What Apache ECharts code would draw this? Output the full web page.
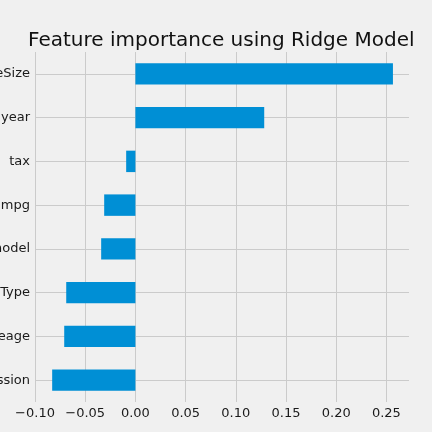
<!DOCTYPE html>
<html>
<head>
<meta charset="utf-8">
<script src="https://cdn.jsdelivr.net/npm/echarts@6/dist/echarts.min.js"></script>
<style>html,body{margin:0;padding:0;background:#f0f0f0;}#c{width:432px;height:432px;}</style>
</head>
<body>
<div id="c"></div>
<script>
const features = ['engineSize', 'year', 'tax', 'mpg', 'model', 'fuelType', 'mileage', 'transmission'];
const importance = [0.2565, 0.1283, -0.0092, -0.0311, -0.0341, -0.0689, -0.0709, -0.0829];
const titleText = 'Feature importance using Ridge Model';

const chart = echarts.init(document.getElementById('c'), null, {renderer: 'canvas'});
const font = 'DejaVu Sans';
chart.setOption({
  backgroundColor: '#f0f0f0',
  animation: false,
  title: {
    text: titleText,
    left: 23, top: 26,
    textStyle: {fontFamily: font, fontSize: 20, fontWeight: 'normal', color: '#111'}
  },
  grid: {left: 35, right: 23, top: 52, bottom: 30, containLabel: false, outerBoundsMode: 'none'},
  xAxis: {
    type: 'value', min: -0.1, max: 0.2725, interval: 0.05,
    axisLine: {show: false}, axisTick: {show: false},
    axisLabel: {
      fontFamily: font, fontSize: 13, color: '#1a1a1a', margin: 5, showMaxLabel: false,
      formatter: v => (v < 0 ? '\u2212' : '') + Math.abs(v).toFixed(2)
    },
    splitLine: {show: true, showMaxLine: false, lineStyle: {color: '#cbcbcb', width: 1}}
  },
  yAxis: {
    type: 'category', data: features, inverse: true,
    axisLine: {show: false}, axisTick: {show: false},
    axisLabel: {fontFamily: font, fontSize: 13, color: '#1a1a1a', margin: 5},
    splitLine: {show: false}
  },
  series: [{
    type: 'bar', data: importance, barWidth: '49%', z: 2,
    itemStyle: {color: '#008fd5'},
    markLine: {
      silent: true, symbol: 'none', z: 1,
      label: {show: false},
      lineStyle: {color: '#cbcbcb', width: 1, type: 'solid'},
      data: features.map(f => ({yAxis: f}))
    }
  }]
});
</script>
</body>
</html>
